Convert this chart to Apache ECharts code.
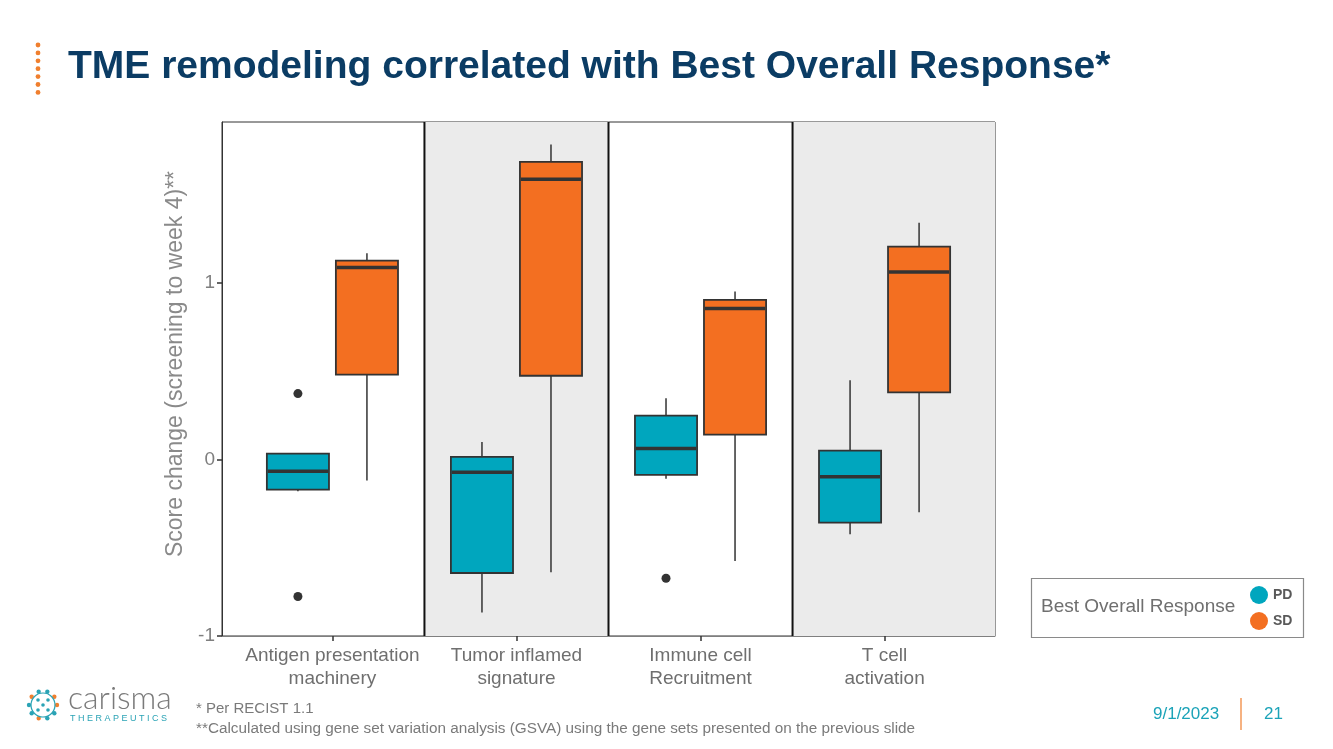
<!DOCTYPE html>
<html>
<head>
<meta charset="utf-8">
<script src="https://cdn.jsdelivr.net/npm/echarts@6/dist/echarts.min.js"></script>
<style>
  html, body { margin: 0; padding: 0; background: #fff; }
  #chart { width: 1333px; height: 749px; }
</style>
</head>
<body>
<div id="chart"></div>
<script>
// 分组 / 数据
var categories = ['Antigen presentation\nmachinery', 'Tumor inflamed\nsignature', 'Immune cell\nRecruitment', 'T cell\nactivation'];
var groups = ['PD', 'SD'];
// [min, q1, median, q3, max]
var pdBoxes = [
    [-0.179, -0.171, -0.066, 0.034, 0.034],
    [-0.867, -0.643, -0.072, 0.015, 0.100],
    [-0.109, -0.087, 0.062, 0.249, 0.347],
    [-0.424, -0.358, -0.098, 0.051, 0.449]
];
var sdBoxes = [
    [-0.119, 0.481, 1.088, 1.127, 1.169],
    [-0.639, 0.475, 1.589, 1.687, 1.786],
    [-0.575, 0.141, 0.856, 0.905, 0.952],
    [-0.298, 0.381, 1.063, 1.207, 1.342]
];
// [category index, value]
var pdOutliers = [[0, 0.374], [0, -0.776], [2, -0.673]];
var sdOutliers = [];
var yTicks = [-1, 0, 1];
var groupColors = ['#00A6BE', '#F36F21'];

var DODGE = 0.1875;   // 0.75 / 4
var BOX_W = 0.3375;
var X_MIN = 0.4, X_MAX = 4.6;

var myChart = echarts.init(document.getElementById('chart'));

function boxData(list, off) {
    return list.map(function(b, i) {
        return [i + 1 + off].concat(b);
    });
}
function outlierData(list, off) {
    return list.map(function(p) {
        return [p[0] + 1 + off, p[1]];
    });
}

// 箱线图
function renderBox(params, api) {
    var x = api.value(0);
    var l = api.coord([x - BOX_W / 2, 0])[0];
    var r = api.coord([x + BOX_W / 2, 0])[0];
    var c = api.coord([x, 0])[0];
    var yMin = api.coord([x, api.value(1)])[1];
    var yQ1 = api.coord([x, api.value(2)])[1];
    var yMed = api.coord([x, api.value(3)])[1];
    var yQ3 = api.coord([x, api.value(4)])[1];
    var yMax = api.coord([x, api.value(5)])[1];
    var line = { stroke: '#333333', lineWidth: 1.5 };
    return {
        type: 'group',
        children: [
            { type: 'line', shape: { x1: c, y1: yMax, x2: c, y2: yQ3 }, style: line },
            { type: 'line', shape: { x1: c, y1: yQ1, x2: c, y2: yMin }, style: line },
            { type: 'rect', shape: { x: l, y: yQ3, width: r - l, height: yQ1 - yQ3 },
              style: { fill: api.visual('color'), stroke: '#333333', lineWidth: 1.8 } },
            { type: 'line', shape: { x1: l + 1, y1: yMed, x2: r - 1, y2: yMed },
              style: { stroke: '#333333', lineWidth: 3.5 } }
        ]
    };
}

// 背景灰色区域和分隔线
function renderBand(params, api) {
    var cs = params.coordSys;
    var l = api.coord([api.value(0), 0])[0];
    var r = api.coord([api.value(1), 0])[0];
    return {
        type: 'rect',
        shape: { x: l, y: cs.y, width: r - l, height: cs.height },
        style: { fill: '#EBEBEB' }
    };
}
function renderDivider(params, api) {
    var cs = params.coordSys;
    var x = api.coord([api.value(0), 0])[0];
    return {
        type: 'line',
        shape: { x1: x, y1: cs.y, x2: x, y2: cs.y + cs.height },
        style: { stroke: '#111111', lineWidth: 2 }
    };
}

var titleDots = [];
for (var k = 0; k < 7; k++) {
    titleDots.push({
        type: 'circle',
        shape: { cx: 38, cy: 45 + k * 7.9, r: 2.4 },
        style: { fill: '#F07F2E' }
    });
}

// logo 小点
var logoParts = [];
for (var a = 0; a < 10; a++) {
    var ang = a * Math.PI / 5;
    logoParts.push({
        type: 'circle',
        shape: { cx: 43 + Math.cos(ang) * 14, cy: 705 + Math.sin(ang) * 14, r: 2.2 },
        style: { fill: a % 3 === 0 ? '#F07F2E' : '#2AA3B5' }
    });
}
[[38, 700], [48, 700], [38, 710], [48, 710], [43, 705]].forEach(function(p) {
    logoParts.push({ type: 'circle', shape: { cx: p[0], cy: p[1], r: 1.8 }, style: { fill: '#2AA3B5' } });
});
logoParts.push({ type: 'circle', shape: { cx: 43, cy: 705, r: 12 }, style: { fill: 'none', stroke: '#2AA3B5', lineWidth: 1.2 } });

var option = {
    animation: false,
    backgroundColor: '#ffffff',
    textStyle: { fontFamily: 'Liberation Sans, Arial, sans-serif' },
    grid: {
        left: 222, right: 338, top: 122, bottom: 113,
        show: true, borderColor: '#333333', borderWidth: 1, backgroundColor: '#ffffff'
    },
    legend: {
        data: groups,
        orient: 'vertical',
        left: 1250, top: 586,
        padding: 0,
        itemWidth: 18, itemHeight: 18, itemGap: 8,
        icon: 'circle',
        selectedMode: false,
        textStyle: { color: '#595959', fontSize: 14, fontWeight: 'bold' }
    },
    xAxis: {
        type: 'value',
        min: X_MIN, max: X_MAX,
        splitLine: { show: false },
        axisLine: { show: true, onZero: false, lineStyle: { color: '#7f7f7f', width: 1 } },
        axisTick: { show: true, customValues: [1, 2, 3, 4], length: 5, lineStyle: { color: '#333333', width: 1.5 } },
        axisLabel: {
            customValues: [1, 2, 3, 4],
            formatter: function(v) { return categories[Math.round(v) - 1]; },
            color: '#6f6f6f', fontSize: 19, lineHeight: 23, margin: 8
        }
    },
    yAxis: {
        type: 'value',
        min: -1, max: 1.913,
        name: 'Score change (screening to week 4)**',
        nameLocation: 'middle',
        nameGap: 34,
        nameTextStyle: { color: '#8a8a8a', fontSize: 23, padding: [0, 0, 0, 30] },
        splitLine: { show: false },
        axisLine: { show: true, onZero: false, lineStyle: { color: '#333333', width: 1 } },
        axisTick: { show: true, customValues: yTicks, length: 5, lineStyle: { color: '#333333', width: 1.5 } },
        axisLabel: { customValues: yTicks, color: '#7f7f7f', fontSize: 19, margin: 7 }
    },
    series: [
        {
            name: 'band', type: 'custom', renderItem: renderBand, silent: true, z: 1,
            data: [[1.5, 2.5], [3.5, X_MAX]]
        },
        {
            name: 'divider', type: 'custom', renderItem: renderDivider, silent: true, z: 2,
            data: [[1.5], [2.5], [3.5]]
        },
        {
            name: 'PD', type: 'custom', renderItem: renderBox, z: 3,
            itemStyle: { color: groupColors[0] },
            encode: { x: 0, y: [1, 2, 3, 4, 5] },
            data: boxData(pdBoxes, -DODGE)
        },
        {
            name: 'SD', type: 'custom', renderItem: renderBox, z: 3,
            itemStyle: { color: groupColors[1] },
            encode: { x: 0, y: [1, 2, 3, 4, 5] },
            data: boxData(sdBoxes, DODGE)
        },
        {
            name: 'outlier', type: 'scatter', z: 4, symbolSize: 9,
            itemStyle: { color: '#333333', opacity: 1 },
            data: outlierData(pdOutliers, -DODGE).concat(outlierData(sdOutliers, DODGE))
        }
    ],
    graphic: [
        {
            type: 'text', left: 68, top: 48,
            style: { text: 'TME remodeling correlated with Best Overall Response*', font: 'bold 39px Liberation Sans, Arial, sans-serif', fill: '#0B3C64' }
        },
        { type: 'group', children: titleDots },
        {
            type: 'rect', shape: { x: 1031.5, y: 578.5, width: 272, height: 59 },
            style: { fill: '#ffffff', stroke: '#8a8a8a', lineWidth: 1.2 }, z: -1
        },
        {
            type: 'text', left: 1041, top: 597,
            style: { text: 'Best Overall Response', font: '19px Liberation Sans, Arial, sans-serif', fill: '#6f6f6f' }
        },
        { type: 'group', children: logoParts },
        {
            type: 'text', left: 68, top: 683,
            style: { text: 'carisma', font: '300 32px Lato, Liberation Sans, sans-serif', fill: '#7a7a7a' }
        },
        {
            type: 'text', left: 70, top: 714,
            style: { text: 'T H E R A P E U T I C S', font: '9px Liberation Sans, Arial, sans-serif', fill: '#2AA3B5' }
        },
        {
            type: 'text', left: 196, top: 701,
            style: { text: '* Per RECIST 1.1', font: '15px Liberation Sans, Arial, sans-serif', fill: '#7a7a7a' }
        },
        {
            type: 'text', left: 196, top: 721,
            style: { text: '**Calculated using gene set variation analysis (GSVA) using the gene sets presented on the previous slide', font: '15.3px Liberation Sans, Arial, sans-serif', fill: '#7a7a7a' }
        },
        {
            type: 'text', left: 1153, top: 706,
            style: { text: '9/1/2023', font: '17px Liberation Sans, Arial, sans-serif', fill: '#1BA3B8' }
        },
        {
            type: 'line', shape: { x1: 1241, y1: 698, x2: 1241, y2: 730 },
            style: { stroke: '#F07F2E', lineWidth: 1.2 }
        },
        {
            type: 'text', left: 1264, top: 706,
            style: { text: '21', font: '17px Liberation Sans, Arial, sans-serif', fill: '#1BA3B8' }
        }
    ]
};

myChart.setOption(option);
window.addEventListener('resize', function() {
    myChart.resize();
});
</script>
</body>
</html>
